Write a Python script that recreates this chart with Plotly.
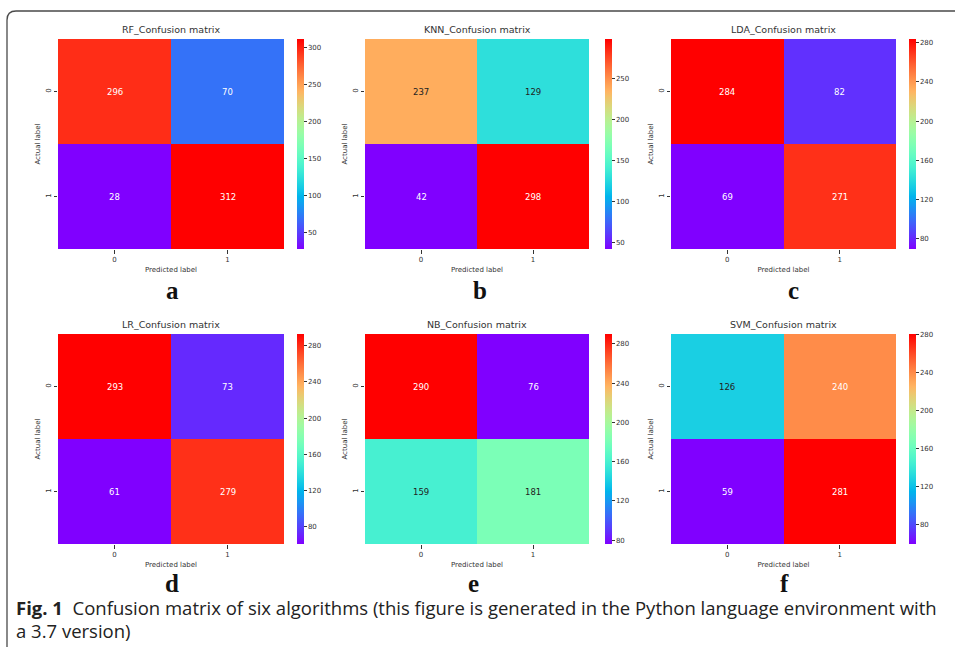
import math
import plotly.graph_objects as go

# ---------------- data ----------------
titles = ["RF_Confusion matrix", "KNN_Confusion matrix", "LDA_Confusion matrix",
          "LR_Confusion matrix", "NB_Confusion matrix", "SVM_Confusion matrix"]
panel_letters = ["a", "b", "c", "d", "e", "f"]
labels = ["0", "1"]

rf = [[296, 70], [28, 312]]
knn = [[237, 129], [42, 298]]
lda = [[284, 82], [69, 271]]
lr = [[293, 73], [61, 279]]
nb = [[290, 76], [159, 181]]
svm = [[126, 240], [59, 281]]
matrices = [rf, knn, lda, lr, nb, svm]

cbar_ticks = [
    [50, 100, 150, 200, 250, 300],
    [50, 100, 150, 200, 250],
    [80, 120, 160, 200, 240, 280],
    [80, 120, 160, 200, 240, 280],
    [80, 120, 160, 200, 240, 280],
    [80, 120, 160, 200, 240, 280],
]

caption_bold = "Fig. 1"
caption_line1 = "Confusion matrix of six algorithms (this figure is generated in the Python language environment with"
caption_line2 = "a 3.7 version)"

# ---------------- layout geometry (pixels) ----------------
W, H = 955, 655
heat_left = [58, 365, 671]
heat_right = [284, 589, 896]
cbar_left = [297, 605, 909]
row_top = [39, 334]
row_bottom = [249, 544]
letter_x = [172, 480, 793, 172, 473, 784]
letter_y = [291, 583]


def px(x):
    return x / W


def py(y):
    return 1 - y / H


# matplotlib "rainbow" colormap
def rainbow(t):
    r = min(1, max(0, abs(2 * t - 0.5)))
    g = min(1, max(0, math.sin(math.pi * t)))
    b = min(1, max(0, math.cos(math.pi * t / 2)))
    return (r, g, b)


def to_css(c):
    return "rgb(%d,%d,%d)" % tuple(round(v * 255) for v in c)


colorscale = [[i / 40, to_css(rainbow(i / 40))] for i in range(41)]


def lum(c):
    def lin(v):
        return v / 12.92 if v <= 0.03928 else ((v + 0.055) / 1.055) ** 2.4
    r, g, b = (lin(v) for v in c)
    return 0.2126 * r + 0.7152 * g + 0.0722 * b


fig = go.Figure()
annotations = []
text_col = "#333333"

for i, (mat, title) in enumerate(zip(matrices, titles)):
    row, col = divmod(i, 3)
    ax = "" if i == 0 else str(i + 1)
    zmin = min(min(r) for r in mat)
    zmax = max(max(r) for r in mat)
    fig.add_trace(go.Heatmap(
        z=mat, x=labels, y=labels,
        xaxis="x" + ax, yaxis="y" + ax,
        colorscale=colorscale, zmin=zmin, zmax=zmax,
        showscale=True,
        colorbar=dict(
            x=px(cbar_left[col]), xanchor="left",
            y=py((row_top[row] + row_bottom[row]) / 2), yanchor="middle",
            len=row_bottom[row] - row_top[row], lenmode="pixels",
            thickness=7, thicknessmode="pixels",
            xpad=0, ypad=0, outlinewidth=0,
            tickvals=cbar_ticks[i], ticks="outside", ticklen=3,
            tickwidth=0.8, tickcolor=text_col,
            tickfont=dict(size=7, color=text_col, family="DejaVu Sans"),
        ),
        hoverinfo="skip",
    ))
    fig.layout["xaxis" + ax] = dict(
        domain=[px(heat_left[col]), px(heat_right[col])],
        anchor="y" + ax, showgrid=False, zeroline=False, showline=False,
        ticks="outside", ticklen=3.5, tickwidth=0.8, tickcolor=text_col,
        tickfont=dict(size=7, color=text_col, family="DejaVu Sans"),
        title=dict(text="Predicted label", standoff=4,
                   font=dict(size=7, color=text_col, family="DejaVu Sans")),
        fixedrange=True,
    )
    fig.layout["yaxis" + ax] = dict(
        domain=[py(row_bottom[row]), py(row_top[row])],
        anchor="x" + ax, showgrid=False, zeroline=False, showline=False,
        autorange="reversed", tickangle=-90,
        ticks="outside", ticklen=3.5, tickwidth=0.8, tickcolor=text_col,
        tickfont=dict(size=7, color=text_col, family="DejaVu Sans"),
        title=dict(text="Actual label", standoff=3,
                   font=dict(size=7, color=text_col, family="DejaVu Sans")),
        fixedrange=True,
    )
    # cell values
    for r_i, rlab in enumerate(labels):
        for c_i, clab in enumerate(labels):
            v = mat[r_i][c_i]
            t = (v - zmin) / (zmax - zmin)
            tc = "#222222" if lum(rainbow(t)) > 0.408 else "#ffffff"
            annotations.append(dict(
                x=clab, y=rlab, xref="x" + ax, yref="y" + ax,
                text=str(v), showarrow=False,
                font=dict(size=8.5, color=tc, family="DejaVu Sans"),
            ))
    # subplot title
    annotations.append(dict(
        x=px((heat_left[col] + heat_right[col]) / 2), y=py(row_top[row] - 2),
        xref="paper", yref="paper", xanchor="center", yanchor="bottom",
        text=title, showarrow=False,
        font=dict(size=9.5, color=text_col, family="DejaVu Sans"),
    ))
    # panel letter
    annotations.append(dict(
        x=px(letter_x[i]), y=py(letter_y[row]),
        xref="paper", yref="paper", xanchor="center", yanchor="middle",
        text="<b>%s</b>" % panel_letters[i], showarrow=False,
        font=dict(size=25, color="#111111", family="Liberation Serif"),
    ))

# caption
annotations.append(dict(
    x=px(14), y=py(607), xref="paper", yref="paper",
    xanchor="left", yanchor="middle", showarrow=False,
    text="<b>%s</b>\u00a0\u00a0%s" % (caption_bold, caption_line1),
    font=dict(size=18.5, color="#222222", family="Open Sans"),
))
annotations.append(dict(
    x=px(14), y=py(630), xref="paper", yref="paper",
    xanchor="left", yanchor="middle", showarrow=False,
    text=caption_line2,
    font=dict(size=18.5, color="#222222", family="Open Sans"),
))

# rounded frame (left + top edges)
bx, by, rad = 7, 11, 9
frame_path = "M %f,%f L %f,%f Q %f,%f %f,%f L %f,%f" % (
    px(bx), py(647), px(bx), py(by + rad), px(bx), py(by), px(bx + rad), py(by),
    px(960), py(by))

fig.update_layout(
    width=W, height=H,
    margin=dict(l=0, r=0, t=0, b=0),
    paper_bgcolor="white", plot_bgcolor="white",
    annotations=annotations,
    shapes=[dict(type="path", path=frame_path, xref="paper", yref="paper",
                 line=dict(color="#4a4a4a", width=1.3))],
    showlegend=False,
)

fig.write_html("out.html", config={"displayModeBar": False})
